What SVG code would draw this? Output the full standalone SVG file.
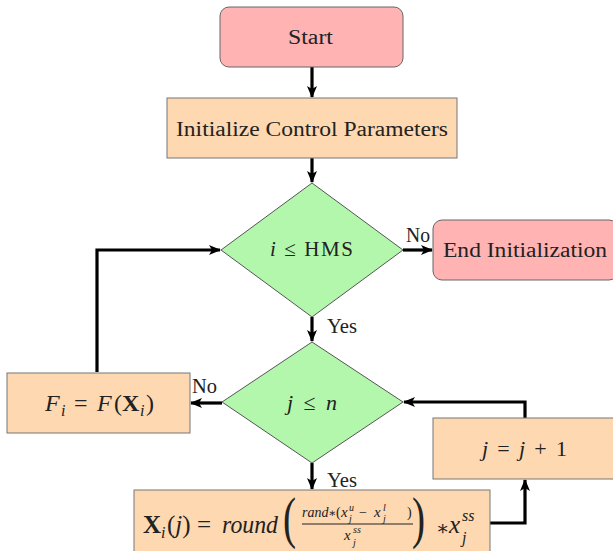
<svg xmlns="http://www.w3.org/2000/svg" width="613" height="551" viewBox="0 0 613 551">
<defs>
<style>
.red{fill:#ffb3b3;stroke:#666;stroke-width:1}
.peach{fill:#fdd8b0;stroke:#777;stroke-width:1}
.green{fill:#b3f7ad;stroke:#555;stroke-width:1}
.conn{fill:none;stroke:#000;stroke-width:3.2}
text{font-family:"Liberation Serif","DejaVu Serif",serif;fill:#222}
.lbl{font-size:20px}
.it{font-style:italic}
.bf{font-weight:bold}
</style>
<marker id="ah" markerUnits="userSpaceOnUse" viewBox="0 0 12 10" refX="11" refY="5" markerWidth="12" markerHeight="10" orient="auto">
<path d="M0,0 L12,5 L0,10 L3,5 z" fill="#000"/>
</marker>
</defs>
<rect width="613" height="551" fill="#fff"/>

<g id="connectors">
<line class="conn" x1="312" y1="67" x2="312" y2="97" marker-end="url(#ah)"/>
<line class="conn" x1="312" y1="158" x2="312" y2="182" marker-end="url(#ah)"/>
<line class="conn" x1="403" y1="250" x2="432" y2="250" marker-end="url(#ah)"/>
<text x="406" y="242" class="lbl" textLength="24" lengthAdjust="spacingAndGlyphs">No</text>
<line class="conn" x1="312" y1="317" x2="312" y2="341" marker-end="url(#ah)"/>
<text x="327" y="333" class="lbl" textLength="30" lengthAdjust="spacingAndGlyphs">Yes</text>
<line class="conn" x1="222" y1="403" x2="191" y2="403" marker-end="url(#ah)"/>
<text x="192" y="393" class="lbl" textLength="25" lengthAdjust="spacingAndGlyphs">No</text>
<polyline class="conn" points="97,372 97,250 220,250" marker-end="url(#ah)"/>
<line class="conn" x1="312" y1="463" x2="312" y2="489" marker-end="url(#ah)"/>
<text x="327" y="487" class="lbl" textLength="30" lengthAdjust="spacingAndGlyphs">Yes</text>
<polyline class="conn" points="525,418 525,402 404,402" marker-end="url(#ah)"/>
<polyline class="conn" points="490,523 525,523 525,480" marker-end="url(#ah)"/>
</g>

<g id="start">
<rect class="red" x="220" y="7" width="183" height="60" rx="9"/>
<text x="288" y="44" class="lbl" textLength="45" lengthAdjust="spacingAndGlyphs">Start</text>
</g>

<g id="init">
<rect class="peach" x="167" y="98" width="290" height="60"/>
<text x="176" y="136" class="lbl" textLength="272" lengthAdjust="spacingAndGlyphs">Initialize Control Parameters</text>
</g>

<g id="cond-i">
<polygon class="green" points="312,183 403,250 312,317 221,250"/>
<text x="270" y="256" font-size="21" textLength="83" lengthAdjust="spacing"><tspan class="it">i</tspan> ≤ HMS</text>
</g>

<g id="end">
<rect class="red" x="433" y="220" width="185" height="60" rx="9"/>
<text x="443" y="257" class="lbl" textLength="164" lengthAdjust="spacingAndGlyphs">End Initialization</text>
</g>

<g id="cond-j">
<polygon class="green" points="312,342 403,402 312,463 222,402"/>
<text x="287" y="410" font-size="22" textLength="50" lengthAdjust="spacing"><tspan class="it">j</tspan> ≤ <tspan class="it">n</tspan></text>
</g>

<g id="fitness">
<rect class="peach" x="7" y="373" width="183" height="60"/>
<text x="45" y="411" font-size="24" class="it">F</text>
<text x="61" y="416" font-size="16" class="it">i</text>
<text x="74" y="411" font-size="24">=</text>
<text x="97" y="411" font-size="24" class="it">F</text>
<text x="114" y="411" font-size="24">(</text>
<text x="122" y="411" font-size="24" class="bf">X</text>
<text x="140" y="416" font-size="16" class="it">i</text>
<text x="146" y="411" font-size="24">)</text>
</g>

<g id="incr">
<rect class="peach" x="433" y="418" width="185" height="61"/>
<text x="482" y="456" font-size="22" textLength="85" lengthAdjust="spacing"><tspan class="it">j</tspan> = <tspan class="it">j</tspan> + 1</text>
</g>

<g id="formula">
<rect class="peach" x="134" y="490" width="356" height="70"/>
<text x="143" y="533" font-size="25" class="bf">X</text>
<text x="161" y="538" font-size="16" class="it">i</text>
<text x="167" y="533" font-size="25">(<tspan class="it">j</tspan>)</text>
<text x="197" y="533" font-size="25">=</text>
<text x="222" y="533" font-size="25" class="it" textLength="56" lengthAdjust="spacingAndGlyphs">round</text>
<text transform="translate(283,537) scale(0.7,1)" font-size="56">(</text>
<text x="302" y="517" font-size="14" class="it">rand</text>
<text x="328" y="517" font-size="12">∗</text>
<text x="336" y="517" font-size="14">(</text>
<text x="341" y="517" font-size="15" class="it">x</text>
<text x="349" y="511" font-size="10" class="it">u</text>
<text x="349" y="522" font-size="10" class="it">j</text>
<text x="359" y="517" font-size="14">−</text>
<text x="374" y="517" font-size="15" class="it">x</text>
<text x="383" y="511" font-size="10" class="it">l</text>
<text x="383" y="522" font-size="10" class="it">j</text>
<text x="407" y="517" font-size="14">)</text>
<line x1="302" y1="524" x2="413" y2="524" stroke="#222" stroke-width="1"/>
<text x="344" y="540" font-size="15" class="it">x</text>
<text x="353" y="533" font-size="10" class="it">ss</text>
<text x="353" y="546" font-size="10" class="it">j</text>
<text transform="translate(412,537) scale(0.7,1)" font-size="56">)</text>
<text x="436" y="535" font-size="20">∗</text>
<text x="449" y="533" font-size="25" class="it">x</text>
<text x="462" y="521" font-size="16" class="it">ss</text>
<text x="462" y="543" font-size="16" class="it">j</text>
</g>
</svg>
